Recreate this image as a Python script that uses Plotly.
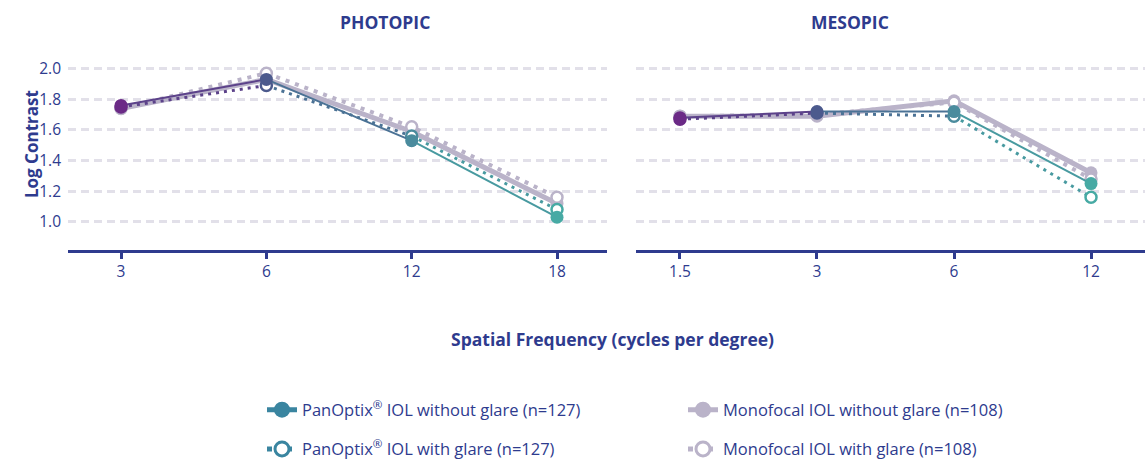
import plotly.graph_objects as go

# categories
PHOT_X = ["3", "6", "12", "18"]
MES_X = ["1.5", "3", "6", "12"]

# log contrast values
PHOT_PAN = [1.76, 1.93, 1.53, 1.03]
PHOT_PAN_GLARE = [1.75, 1.89, 1.56, 1.08]
PHOT_MONO = [1.74, 1.93, 1.59, 1.12]
PHOT_MONO_GLARE = [1.74, 1.97, 1.62, 1.16]

MES_PAN = [1.68, 1.72, 1.72, 1.25]
MES_PAN_GLARE = [1.67, 1.71, 1.69, 1.16]
MES_MONO = [1.69, 1.69, 1.79, 1.32]
MES_MONO_GLARE = [1.69, 1.70, 1.78, 1.28]

Y_TICKS = [1.0, 1.2, 1.4, 1.6, 1.8, 2.0]

NAVY = "#2e3b8e"
MONO = "#bab3c9"
GRID = "#e2e0e9"
GRAD = ["#6b2a86", "#4c5a8d", "#4a8b9d", "#47aaa4"]
FONT = "Open Sans"


def mix(c1, c2, t=0.5):
    a = [int(c1[i:i + 2], 16) for i in (1, 3, 5)]
    b = [int(c2[i:i + 2], 16) for i in (1, 3, 5)]
    return "#" + "".join(f"{round(p + (q - p) * t):02x}" for p, q in zip(a, b))


def add_panoptix(fig, x, y, ax, glare):
    width = 3 if glare else 2
    dash = "3px,5px" if glare else "solid"
    for i in range(len(x) - 1):
        fig.add_trace(go.Scatter(
            x=x[i:i + 2], y=y[i:i + 2], mode="lines", xaxis=ax[0], yaxis=ax[1],
            line=dict(color=mix(GRAD[i], GRAD[i + 1]), width=width, dash=dash),
            showlegend=False, hoverinfo="skip",
        ))
    if glare:
        marker = dict(size=11, color="white", line=dict(color=GRAD, width=2.5))
    else:
        marker = dict(size=13, color=GRAD, line=dict(width=0))
    fig.add_trace(go.Scatter(
        x=x, y=y, mode="markers", xaxis=ax[0], yaxis=ax[1], marker=marker,
        showlegend=False, hovertemplate="%{x}: %{y:.2f}<extra></extra>",
    ))


def add_mono(fig, x, y, ax, glare):
    if glare:
        line = dict(color=MONO, width=4, dash="4px,6px")
        marker = dict(size=11, color="white", line=dict(color=MONO, width=2.5))
    else:
        line = dict(color=MONO, width=5)
        marker = dict(size=13, color=MONO, line=dict(width=0))
    fig.add_trace(go.Scatter(
        x=x, y=y, mode="lines+markers", xaxis=ax[0], yaxis=ax[1],
        line=line, marker=marker, showlegend=False,
        hovertemplate="%{x}: %{y:.2f}<extra></extra>",
    ))


fig = go.Figure()

for x, pan, pang, mono, monog, ax in [
    (PHOT_X, PHOT_PAN, PHOT_PAN_GLARE, PHOT_MONO, PHOT_MONO_GLARE, ("x", "y")),
    (MES_X, MES_PAN, MES_PAN_GLARE, MES_MONO, MES_MONO_GLARE, ("x2", "y2")),
]:
    add_mono(fig, x, mono, ax, False)
    add_mono(fig, x, monog, ax, True)
    add_panoptix(fig, x, pang, ax, True)
    add_panoptix(fig, x, pan, ax, False)

# legend entries
TEAL = "#3a85a0"
legend_items = [
    ("PanOptix<sup>®</sup> IOL without glare (n=127)", TEAL, "solid", dict(size=18, color=TEAL), "legend"),
    ("Monofocal IOL without glare (n=108)", MONO, "solid", dict(size=18, color=MONO), "legend"),
    ("PanOptix<sup>®</sup> IOL with glare (n=127)", TEAL, "dot",
     dict(size=14, color="white", line=dict(color=TEAL, width=3)), "legend2"),
    ("Monofocal IOL with glare (n=108)", MONO, "dot",
     dict(size=14, color="white", line=dict(color=MONO, width=3)), "legend2"),
]
for name, col, dash, marker, leg in legend_items:
    fig.add_trace(go.Scatter(
        x=[None], y=[None], mode="lines+markers", name=name, legend=leg,
        line=dict(color=col, width=5, dash=dash), marker=marker,
    ))

tick_font = dict(family=FONT, size=15.5, color=NAVY)
xcommon = dict(
    type="category", showline=True, linecolor=NAVY, linewidth=3,
    ticks="outside", ticklen=6, tickwidth=3, tickcolor=NAVY,
    showgrid=False, zeroline=False, tickfont=tick_font, fixedrange=True,
)
ycommon = dict(
    range=[0.818, 2.05], tickvals=Y_TICKS, tickformat=".1f",
    showgrid=True, gridcolor=GRID, gridwidth=2.5, griddash="8px,5px",
    zeroline=False, showline=False, domain=[0.4647, 0.8758],
    tickfont=tick_font, fixedrange=True,
)

leg_common = dict(
    orientation="h", xanchor="left", yanchor="middle",
    entrywidth=376, entrywidthmode="pixels",
    font=dict(family=FONT, size=16.5, color=NAVY), bgcolor="rgba(0,0,0,0)",
)

fig.update_layout(
    width=1145, height=467,
    margin=dict(l=0, r=0, t=0, b=0),
    paper_bgcolor="white", plot_bgcolor="white",
    font=dict(family=FONT, color=NAVY),
    xaxis=dict(domain=[68 / 1145, 607 / 1145], range=[-0.365, 3.344], **xcommon),
    xaxis2=dict(domain=[636 / 1145, 1.0], range=[-0.321, 3.394], anchor="y2", **xcommon),
    yaxis=dict(anchor="x", ticklabelstandoff=6, **ycommon),
    yaxis2=dict(anchor="x2", showticklabels=False, **ycommon),
    legend=dict(x=262 / 1145, y=1 - 413 / 467, **leg_common),
    legend2=dict(x=262 / 1145, y=1 - 453 / 467, **leg_common),
    annotations=[
        dict(text="<b>PHOTOPIC</b>", x=(68 + 607) / 2 / 1145, y=1 - 18 / 467,
             xref="paper", yref="paper", yanchor="middle", showarrow=False,
             font=dict(family=FONT, size=17.5, color=NAVY)),
        dict(text="<b>MESOPIC</b>", x=(636 + 1145) / 2 / 1145, y=1 - 18 / 467,
             xref="paper", yref="paper", yanchor="middle", showarrow=False,
             font=dict(family=FONT, size=17.5, color=NAVY)),
        dict(text="<b>Log Contrast</b>", x=18 / 1145, y=1 - 143 / 467, textangle=-90,
             xref="paper", yref="paper", yanchor="middle", showarrow=False,
             font=dict(family=FONT, size=17, color=NAVY)),
        dict(text="<b>Spatial Frequency (cycles per degree)</b>", x=612 / 1145, y=1 - 341 / 467,
             xref="paper", yref="paper", yanchor="middle", showarrow=False,
             font=dict(family=FONT, size=17.5, color=NAVY)),
    ],
)

# the page's default body margin would shift the figure by 8 px
fig.write_html("out.html", config={"displayModeBar": False},
               post_script="document.body.style.margin='0';")
